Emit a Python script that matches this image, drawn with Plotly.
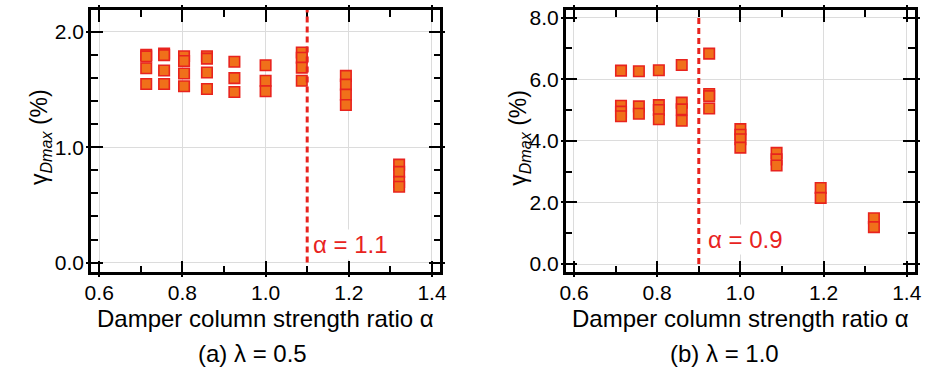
import plotly.graph_objects as go

# Panel (a): lambda = 0.5
alpha_a = [0.713, 0.713, 0.713, 0.713,
           0.756, 0.756, 0.756, 0.756,
           0.804, 0.804, 0.804, 0.804,
           0.859, 0.859, 0.859, 0.859,
           0.925, 0.925, 0.925,
           1.000, 1.000, 1.000,
           1.087, 1.087, 1.087, 1.087,
           1.193, 1.193, 1.193, 1.193,
           1.321, 1.321, 1.321, 1.321]
gamma_a = [1.800, 1.787, 1.684, 1.548,
           1.812, 1.798, 1.665, 1.548,
           1.788, 1.747, 1.639, 1.528,
           1.788, 1.768, 1.647, 1.505,
           1.741, 1.599, 1.479,
           1.710, 1.576, 1.485,
           1.821, 1.775, 1.690, 1.576,
           1.618, 1.542, 1.456, 1.366,
           0.849, 0.786, 0.700, 0.658]

# Panel (b): lambda = 1.0
alpha_b = [0.713, 0.713, 0.713, 0.713,
           0.756, 0.756, 0.756,
           0.804, 0.804, 0.804, 0.804,
           0.859, 0.859, 0.859, 0.859,
           0.925, 0.925, 0.925, 0.925,
           1.000, 1.000, 1.000, 1.000,
           1.087, 1.087, 1.087,
           1.193, 1.193,
           1.321, 1.321]
gamma_b = [6.28, 5.14, 4.95, 4.80,
           6.26, 5.12, 4.88,
           6.29, 5.16, 5.00, 4.70,
           6.46, 5.24, 5.02, 4.65,
           6.83, 5.52, 5.45, 5.05,
           4.38, 4.20, 4.05, 3.78,
           3.61, 3.40, 3.20,
           2.47, 2.15,
           1.49, 1.20]

alpha_limit_a = 1.1
alpha_limit_b = 0.9

x_ticks = [0.6, 0.8, 1.0, 1.2, 1.4]
y_ticks_a = [0.0, 1.0, 2.0]
y_ticks_b = [0.0, 2.0, 4.0, 6.0, 8.0]

FONT = "Liberation Sans, Arial, sans-serif"
RED = "#E8231E"
ORANGE = "#F0701A"

XR = [0.58, 1.42]
YR_A = [-0.085, 2.19]
YR_B = [-0.27, 8.25]

dom_y = [1 - 273.5 / 377, 1 - 6 / 377]
dom_xa = [86 / 929, 440 / 929]
dom_xb = [567 / 929, 921 / 929]

fig = go.Figure()

marker = dict(symbol="square", size=10.5, color=ORANGE,
              line=dict(color=RED, width=1.6))

fig.add_trace(go.Scatter(x=alpha_a, y=gamma_a, mode="markers", marker=marker,
                         xaxis="x", yaxis="y", showlegend=False))
fig.add_trace(go.Scatter(x=alpha_b, y=gamma_b, mode="markers", marker=marker,
                         xaxis="x2", yaxis="y2", showlegend=False))
# empty traces so the outer tick overlays get their own subplots
for xa, ya in [("x3", "y3"), ("x4", "y4")]:
    fig.add_trace(go.Scatter(x=[], y=[], xaxis=xa, yaxis=ya, showlegend=False,
                             hoverinfo="skip"))


def main_axis(domain, rng, tickvals, minor_dtick, anchor, fmt=".1f"):
    return dict(domain=domain, range=rng, anchor=anchor,
                tickvals=tickvals, tickformat=fmt,
                ticks="inside", ticklen=12, tickwidth=2.2, tickcolor="black",
                minor=dict(ticks="inside", ticklen=7, tickwidth=2.2,
                           tickcolor="black", dtick=minor_dtick,
                           tick0=0, showgrid=False),
                showline=True, linecolor="black", linewidth=2.5,
                mirror="allticks",
                showgrid=True, gridcolor="#DCDCDC", gridwidth=1,
                zeroline=False,
                tickfont=dict(family=FONT, size=21, color="black"),
                fixedrange=True)


def outer_axis(domain, rng, tickvals, anchor, overlay):
    return dict(domain=domain, range=rng, anchor=anchor, overlaying=overlay,
                tickvals=tickvals, ticks="outside", ticklen=4, tickwidth=2.2,
                tickcolor="black", showticklabels=False, showline=False,
                mirror="ticks", showgrid=False, zeroline=False,
                fixedrange=True)


fig.update_layout(
    width=929, height=377,
    margin=dict(l=0, r=0, t=0, b=0),
    paper_bgcolor="white", plot_bgcolor="white",
    xaxis=main_axis(dom_xa, XR, x_ticks, 0.1, "y"),
    yaxis=main_axis(dom_y, YR_A, y_ticks_a, 0.2, "x"),
    xaxis2=main_axis(dom_xb, XR, x_ticks, 0.1, "y2"),
    yaxis2=main_axis(dom_y, YR_B, y_ticks_b, 1.0, "x2"),
    xaxis3=outer_axis(dom_xa, XR, x_ticks, "y3", "x"),
    yaxis3=outer_axis(dom_y, YR_A, y_ticks_a, "x3", "y"),
    xaxis4=outer_axis(dom_xb, XR, x_ticks, "y4", "x2"),
    yaxis4=outer_axis(dom_y, YR_B, y_ticks_b, "x4", "y2"),
)

# critical strength ratio lines
fig.add_shape(type="line", xref="x", yref="y", x0=alpha_limit_a, x1=alpha_limit_a,
              y0=0, y1=YR_A[1], line=dict(color=RED, width=3, dash="6px,4px"))
fig.add_shape(type="line", xref="x2", yref="y2", x0=alpha_limit_b, x1=alpha_limit_b,
              y0=0, y1=8.0, line=dict(color=RED, width=3, dash="6px,4px"))

fig.add_annotation(x=alpha_limit_a + 0.01, y=0.156, xref="x", yref="y",
                   text=f"α = {alpha_limit_a}", showarrow=False, xanchor="left",
                   yanchor="middle", bgcolor="white",
                   font=dict(family=FONT, size=24, color=RED))
fig.add_annotation(x=alpha_limit_b + 0.018, y=0.79, xref="x2", yref="y2",
                   text=f"α = {alpha_limit_b}", showarrow=False, xanchor="left",
                   yanchor="middle", bgcolor="white",
                   font=dict(family=FONT, size=24, color=RED))

# axis titles and panel captions
title_font = dict(family=FONT, size=24, color="black")
for cx in [(dom_xa[0] + dom_xa[1]) / 2, (dom_xb[0] + dom_xb[1]) / 2]:
    fig.add_annotation(x=cx, y=1 - 320 / 377, xref="paper", yref="paper",
                       text="Damper column strength ratio α", showarrow=False,
                       xanchor="center", yanchor="middle", font=title_font)
for cx, cap in [(250 / 929, "(a) λ = 0.5"), (728 / 929, "(b) λ = 1.0")]:
    fig.add_annotation(x=cx, y=1 - 356 / 377, xref="paper", yref="paper",
                       text=cap, showarrow=False,
                       xanchor="center", yanchor="middle", font=title_font)

ytitle = "γ<sub><i>Dmax</i></sub> (%)"
for px in [35, 520]:
    fig.add_annotation(x=px / 929, y=1 - 136 / 377, xref="paper", yref="paper",
                       text=ytitle, showarrow=False, textangle=-90,
                       xanchor="center", yanchor="middle",
                       font=dict(family=FONT, size=23, color="black"))

fig.write_html("out.html")
